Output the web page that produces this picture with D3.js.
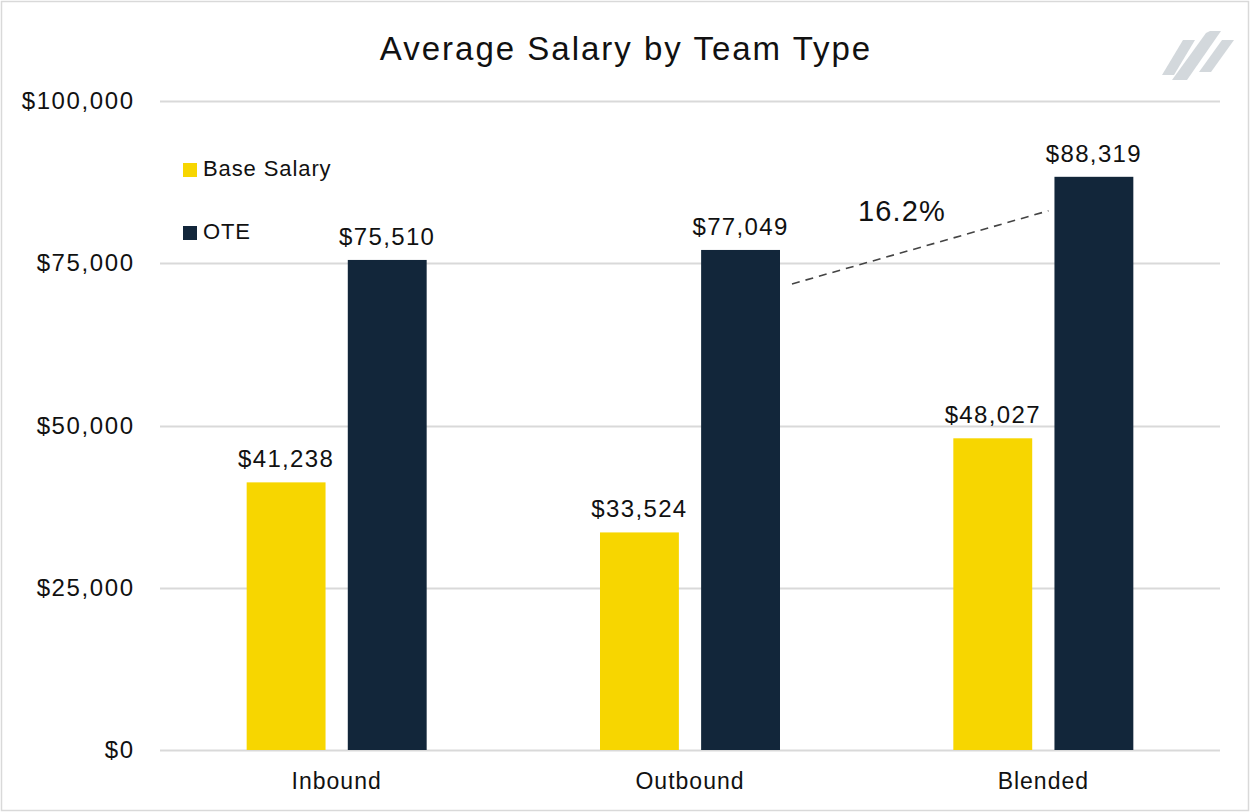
<!DOCTYPE html>
<html><head><meta charset="utf-8">
<script src="https://cdn.jsdelivr.net/npm/d3@7"></script>
<style>
html,body{margin:0;padding:0;background:#fff;}
svg{display:block;font-family:"Liberation Sans",Arial,sans-serif;}
</style></head>
<body>
<svg id="chart" width="1250" height="812"></svg>
<script>
const categories = ["Inbound", "Outbound", "Blended"];
const seriesNames = ["Base Salary", "OTE"];
const baseSalary = [41238, 33524, 48027];
const ote = [75510, 77049, 88319];
const yTicks = [0, 25000, 50000, 75000, 100000];
const colors = ["#F7D600", "#12263A"];
const annotationText = "16.2%";

const svg = d3.select("#chart");
const W = 1250, H = 812;
const margin = {left: 160, right: 30, top: 101, bottom: 62};

svg.append("rect").attr("x",1.5).attr("y",1.5).attr("width",W-3).attr("height",H-3)
  .attr("fill","#fff").attr("stroke","#d9d9d9").attr("stroke-width",1.5);

const x = d3.scaleBand().domain(categories).range([margin.left, W - margin.right]);
const xInner = d3.scaleBand().domain(seriesNames).range([0, 180]).paddingInner(0.22);
const y = d3.scaleLinear().domain([0, 100000]).range([H - margin.bottom, margin.top]);

// gridlines
svg.append("g").selectAll("line").data(yTicks).join("line")
  .attr("x1", margin.left).attr("x2", W - margin.right)
  .attr("y1", d => Math.round(y(d)) + 0.5).attr("y2", d => Math.round(y(d)) + 0.5)
  .attr("stroke", "#d9d9d9").attr("stroke-width", 2);

// y axis labels
const yAxis = d3.axisLeft(y).tickValues(yTicks).tickSize(0).tickPadding(0)
  .tickFormat(d => "$" + d3.format(",")(d));
const gy = svg.append("g").attr("transform", `translate(${margin.left - 27},0)`).call(yAxis);
gy.select(".domain").remove();
gy.selectAll("text").attr("font-size", 24).attr("fill", "#111").attr("font-family", "inherit")
  .attr("letter-spacing", 1.6).attr("dx", 1.6);

// x axis labels
const xAxis = d3.axisBottom(x).tickSize(0).tickPadding(0);
const gx = svg.append("g").attr("transform", `translate(0,${H - margin.bottom + 23})`).call(xAxis);
gx.select(".domain").remove();
gx.selectAll("text").attr("font-size", 23).attr("fill", "#111").attr("font-family", "inherit")
  .attr("letter-spacing", 1);

// bars
const data = categories.map((c, i) => ({cat: c, vals: [
  {s: seriesNames[0], v: baseSalary[i], c: colors[0]},
  {s: seriesNames[1], v: ote[i], c: colors[1]}]}));
const groups = svg.append("g").selectAll("g").data(data).join("g")
  .attr("transform", d => `translate(${x(d.cat) + x.bandwidth()/2 - 90},0)`);
groups.selectAll("rect").data(d => d.vals).join("rect")
  .attr("x", d => xInner(d.s)).attr("width", xInner.bandwidth())
  .attr("y", d => y(d.v)).attr("height", d => y(0) - y(d.v))
  .attr("fill", d => d.c);
groups.selectAll("text").data(d => d.vals).join("text")
  .attr("x", d => xInner(d.s) + xInner.bandwidth()/2)
  .attr("y", d => y(d.v) - 15)
  .attr("text-anchor", "middle").attr("font-size", 24).attr("fill", "#111")
  .attr("letter-spacing", 1.35)
  .text(d => "$" + d3.format(",")(d.v));

// legend
const leg = svg.append("g").attr("transform", "translate(183,163)");
seriesNames.forEach((s, i) => {
  const g = leg.append("g").attr("transform", `translate(0,${i*63})`);
  g.append("rect").attr("width", 14).attr("height", 14).attr("fill", colors[i]);
  g.append("text").attr("x", 20).attr("y", 13).attr("font-size", 22).attr("fill", "#111")
    .attr("letter-spacing", 0.9).text(s);
});

// annotation dashed line between Outbound OTE and Blended OTE
const xo = x("Outbound") + x.bandwidth()/2 - 90 + xInner("OTE") + xInner.bandwidth();
const xb = x("Blended") + x.bandwidth()/2 - 90 + xInner("OTE");
svg.append("line")
  .attr("x1", xo + 12).attr("y1", y(ote[1]) + 34)
  .attr("x2", xb - 6).attr("y2", y(ote[2]) + 34)
  .attr("stroke", "#444").attr("stroke-width", 1.6).attr("stroke-dasharray", "8,6");
svg.append("text").attr("x", 902).attr("y", 221).attr("text-anchor", "middle")
  .attr("font-size", 29).attr("fill", "#111").attr("letter-spacing", 1.2).text(annotationText);

// title
svg.append("text").attr("x", 626).attr("y", 60).attr("text-anchor", "middle")
  .attr("font-size", 33).attr("fill", "#111").attr("letter-spacing", 2)
  .text("Average Salary by Team Type");

// logo stripes
const logo = svg.append("g").attr("fill", "#d3d8dc");
[[[1162,75],[1174,75],[1195,40],[1183,40]],
 [[1172,80],[1187,80],[1221,31],[1210,31],[1206,33]],
 [[1199,72],[1211,72],[1234,40],[1222,40]]].forEach(p =>
  logo.append("polygon").attr("points", p.map(q => q.join(",")).join(" ")));
</script>
</body></html>
